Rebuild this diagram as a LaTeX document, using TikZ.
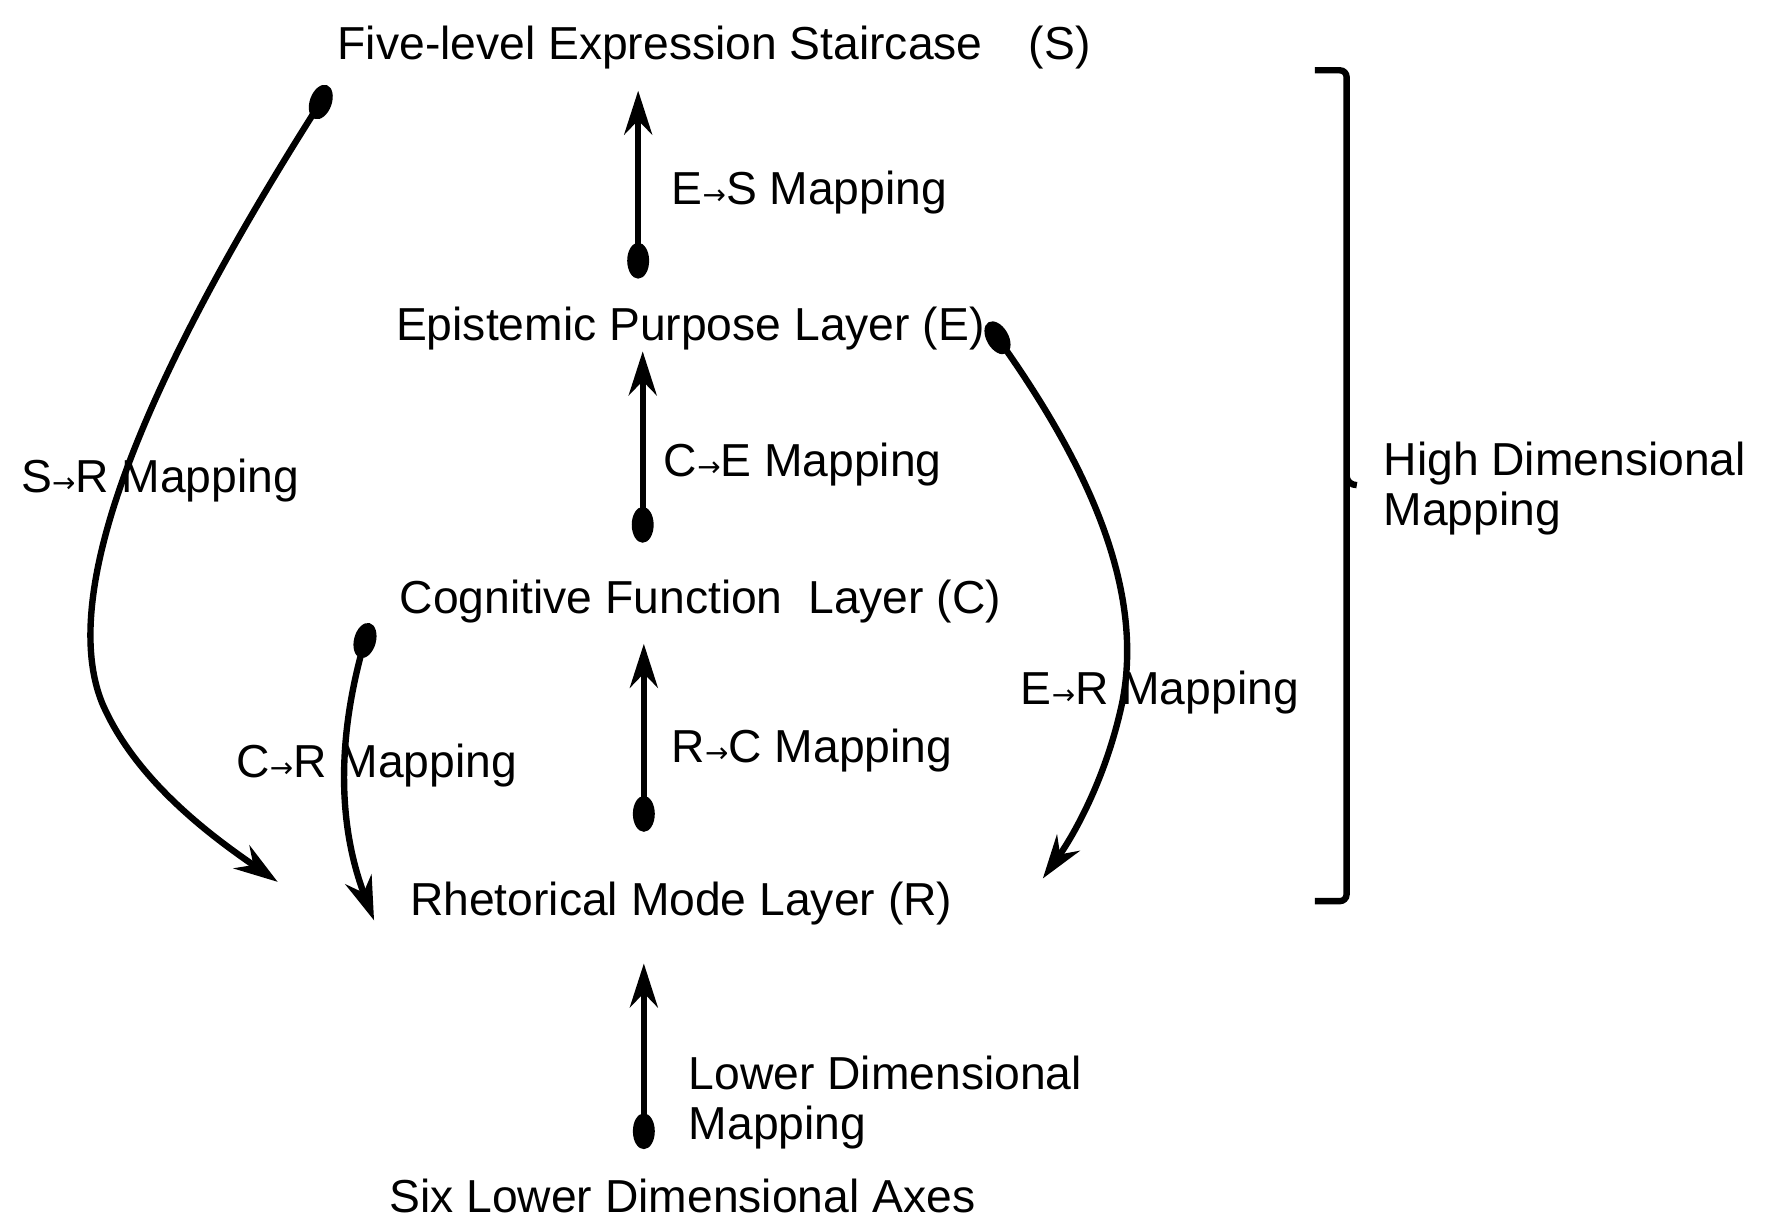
\documentclass[tikz,border=0pt]{standalone}
\usepackage{fontspec}
\setmainfont{Liberation Sans}
\newfontfamily\arr{DejaVu Sans}
\usetikzlibrary{arrows.meta,shapes.geometric}
\newcommand{\ra}{{\arr\scriptsize →}}
\begin{document}
\begin{tikzpicture}[x=0.01cm,y=-0.01cm,
  lbl/.style={font=\fontsize{11.6}{13.5}\selectfont,inner sep=0pt},
  map/.style={line width=1.6pt,-{Stealth[length=11pt,width=7pt]}},
  dot/.style={fill=black,ellipse,minimum width=5.5pt,minimum height=9pt,inner sep=0pt}]
\useasboundingbox (0,0) rectangle (1558,1082);
\node[lbl] (S) at (630,42) {Five-level Expression Staircase\quad(S)};
\node[lbl] (E) at (609,290) {Epistemic Purpose Layer (E)};
\node[lbl] (C) at (618,531) {Cognitive Function\ \ Layer (C)};
\node[lbl] (R) at (601,797) {Rhetorical Mode Layer (R)};
\node[lbl] (A) at (602,1055) {Six Lower Dimensional Axes};
% dots
\node[dot] (d1) at (563,230) {};
\node[dot] (d2) at (567,463) {};
\node[dot] (d3) at (568,718) {};
\node[dot] (d4) at (568,998) {};
\node[dot,rotate=-20] (d5) at (283,90) {};
\node[dot,rotate=-15] (d6) at (322,565) {};
\node[dot,rotate=30] (d7) at (880,298) {};
\coordinate (t1) at (563,80);
\coordinate (t2) at (567,310);
\coordinate (t3) at (568,568);
\coordinate (t4) at (568,850);
\coordinate (t5) at (245,778);
\coordinate (t6) at (330,812);
\coordinate (t7) at (920,775);
\draw[map] (d1.center) -- (t1);
\draw[map] (d2.center) -- (t2);
\draw[map] (d3.center) -- (t3);
\draw[map] (d4.center) -- (t4);
\draw[map] (d5.center) .. controls (130,330) and (50,520) .. (90,620) .. controls (120,690) and (190,740) .. (t5);
\draw[map] (d6.center) .. controls (300,640) and (295,720) .. (t6);
\draw[map] (d7.center) .. controls (960,410) and (1010,520) .. (990,620) .. controls (975,690) and (945,740) .. (t7);
\node[lbl,anchor=west] (l1) at (592,170) {E\ra S Mapping};
\node[lbl,anchor=west] (l2) at (585,410) {C\ra E Mapping};
\node[lbl,anchor=west] (l3) at (592,662) {R\ra C Mapping};
\node[lbl,anchor=west,align=left] (l4) at (607,973) {Lower Dimensional\\[-1pt]Mapping};
\node[lbl,anchor=west] (l5) at (18,424) {S\ra R Mapping};
\node[lbl,anchor=west] (l6) at (208,675) {C\ra R Mapping};
\node[lbl,anchor=west] (l7) at (900,611) {E\ra R Mapping};
\coordinate (b1) at (1160,62);
\coordinate (b2) at (1160,795);
\coordinate (bm) at (1197,428);
\draw[line width=1.6pt] (b1) -- (1182,62) to[out=0,in=90] (1188,68) -- (1188,420) to[out=-90,in=180] (bm) (1188,420) -- (1188,789) to[out=-90,in=0] (1182,795) -- (b2);
\node[lbl,anchor=west,align=left] (H) at (1220,431) {High Dimensional\\[-1pt]Mapping};
\end{tikzpicture}
\end{document}
